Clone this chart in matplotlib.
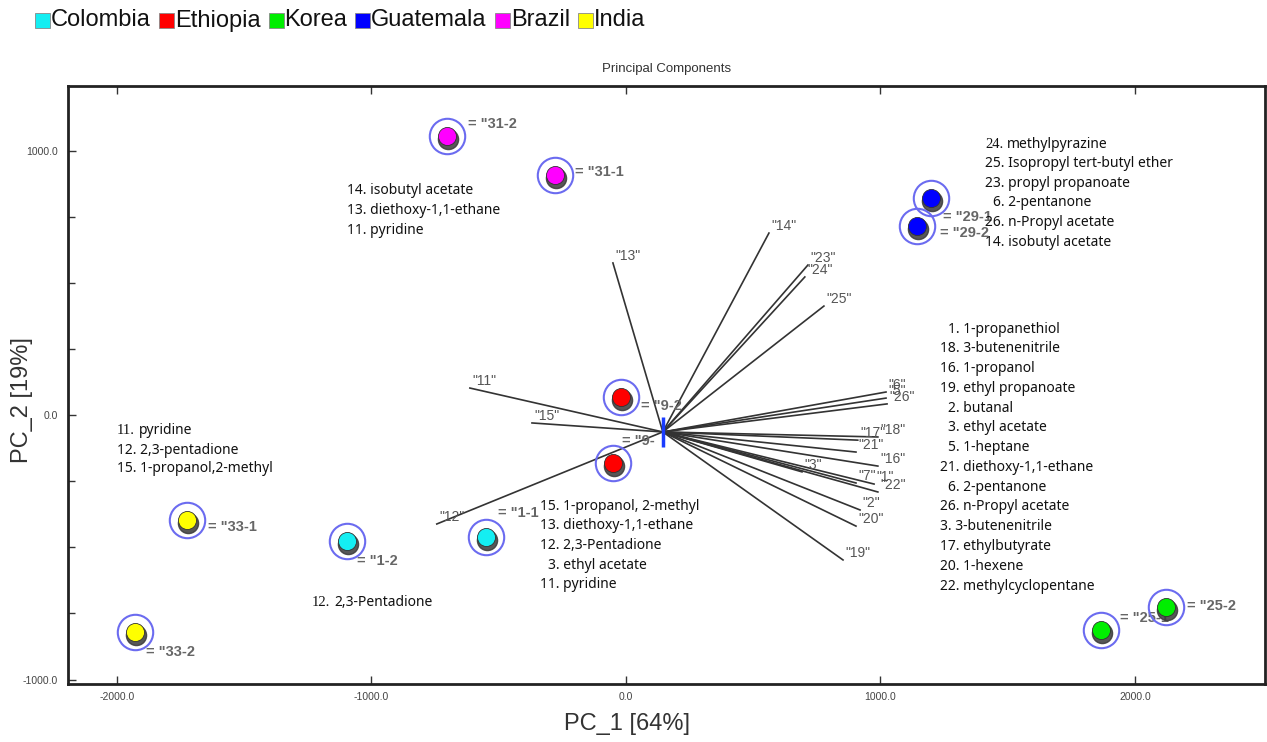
import matplotlib
matplotlib.use('Agg')
import matplotlib.pyplot as plt
from matplotlib.patches import Rectangle
from matplotlib.ticker import MultipleLocator, FormatStrFormatter
from matplotlib.transforms import offset_copy

plt.rcParams['axes.unicode_minus'] = False

W, H = 1267, 742

# groups (legend order)
countries = ['Colombia', 'Ethiopia', 'Korea', 'Guatemala', 'Brazil', 'India']
country_colors = ['#14eef2', '#ff0000', '#00ee00', '#0000ff', '#ff00ff', '#ffff00']

# sample scores on PC_1 / PC_2
sample_names = ['1-1', '1-2', '9-2', '9-1', '25-1', '25-2',
                '29-1', '29-2', '31-2', '31-1', '33-1', '33-2']
sample_labels = ['= "1-1', '= "1-2', '= "9-2', '= "9-', '= "25-1', '= "25-2',
                 '= "29-1', '= "29-2', '= "31-2', '= "31-1', '= "33-1', '= "33-2']
sample_group = [0, 0, 1, 1, 2, 2, 3, 3, 4, 4, 5, 5]
pc1 = [-550, -1096, -20, -51, 1866, 2122, 1198, 1143, -703, -279, -1725, -1929]
pc2 = [-461, -476, 68, -181, -813, -726, 820, 715, 1055, 907, -397, -820]
# label offsets (pixels, right / up)
label_dx = [12, 10, 20, 9, 19, 21, 12, 23, 21, 20, 21, 11]
label_dy = [24, -20, -9, 22, 12, 1, -19, -7, 12, 3, -7, -20]

# loading vectors (origin + tips)
origin = (145, -64)
var_names = ['13', '14', '23', '24', '25', '11', '15', '12',
             '6', '5', '26', '17', '18', '21', '16', '3', '7', '1', '22', '2', '20', '19']
var_x = [-51, 562, 715, 703, 778, -613, -369, -743,
         1022, 1022, 1026, 911, 990, 904, 990, 692, 904, 975, 990, 920, 904, 853]
var_y = [575, 688, 567, 522, 412, 102, -30, -412,
         87, 64, 42, -95, -83, -140, -193, -215, -257, -261, -291, -359, -420, -548]

# annotation blocks: (left px, first line centre px, line step px, lines, serif number on first line)
block_a = ['14. isobutyl acetate', '13. diethoxy-1,1-ethane', '11. pyridine']
block_b = ['24. methylpyrazine', '25. Isopropyl tert-butyl ether', '23. propyl propanoate',
           '\u20076. 2-pentanone', '26. n-Propyl acetate', '14. isobutyl acetate']
block_c = ['\u20071. 1-propanethiol', '18. 3-butenenitrile', '16. 1-propanol',
           '19. ethyl propanoate', '\u20072. butanal', '\u20073. ethyl acetate',
           '\u20075. 1-heptane', '21. diethoxy-1,1-ethane', '\u20076. 2-pentanone',
           '26. n-Propyl acetate', '3. 3-butenenitrile', '17. ethylbutyrate',
           '20. 1-hexene', '22. methylcyclopentane']
block_d = ['11. pyridine', '12. 2,3-pentadione', '15. 1-propanol,2-methyl']
block_e = ['15. 1-propanol, 2-methyl', '13. diethoxy-1,1-ethane', '12. 2,3-Pentadione',
           '\u20073. ethyl acetate', '11. pyridine']
block_f = ['12. 2,3-Pentadione']
blocks = [(347, 189, 20.0, block_a, False),
          (985, 143, 19.6, block_b, True),
          (940, 328, 19.77, block_c, False),
          (117, 430, 19.0, block_d, True),
          (540, 505, 19.75, block_e, False),
          (312, 602, 19.0, block_f, True)]

fig = plt.figure(figsize=(W / 100, H / 100), dpi=100)
renderer = fig.canvas.get_renderer()
ax = fig.add_axes([68 / W, 58 / H, 1197 / W, 598 / H])
ax.set_xlim(-2192, 2511)
ax.set_ylim(-1017, 1244)

# loading vectors
for name, vx, vy in zip(var_names, var_x, var_y):
    ax.plot([origin[0], vx], [origin[1], vy], color='#333333', lw=1.2, zorder=2)
    ax.annotate('"%s"' % name, (vx, vy), xytext=(2, 5), textcoords='offset points',
                ha='left', va='center', fontsize=10, color='#555555',
                family='Liberation Sans', zorder=3)
ax.plot(origin[0], origin[1], marker='|', ms=21, mew=2.5, color='#1a3cff', zorder=4)

# sample points: shadow, filled circle, ring
shadow = offset_copy(ax.transData, fig=fig, x=1, y=-3, units='dots')
for i in range(len(sample_names)):
    col = country_colors[sample_group[i]]
    ax.plot(pc1[i], pc2[i], 'o', ms=14.5, color='#3a3a3a', alpha=0.85,
            transform=shadow, zorder=5)
    ax.plot(pc1[i], pc2[i], 'o', ms=13, mfc=col, mec='#333333', mew=0.6, zorder=6)
    ax.plot(pc1[i], pc2[i], 'o', ms=25.5, mfc='none', mec='#6b6bf0', mew=1.5, zorder=6)
    ax.annotate(sample_labels[i], (pc1[i], pc2[i]),
                xytext=(label_dx[i] * 0.72, label_dy[i] * 0.72), textcoords='offset points',
                ha='left', va='center', fontsize=10.5, fontweight='bold',
                color='#666666', family='Liberation Sans', zorder=5)

# axes styling
for s in ax.spines.values():
    s.set_linewidth(2)
    s.set_color('#222222')
ax.set_xticks([-2000, -1000, 0, 1000, 2000])
ax.set_yticks([-1000, 0, 1000])
ax.yaxis.set_minor_locator(MultipleLocator(250))
ax.xaxis.set_major_formatter(FormatStrFormatter('%.1f'))
ax.yaxis.set_major_formatter(FormatStrFormatter('%.1f'))
ax.tick_params(axis='both', which='both', direction='in', width=1, colors='#333333',
               labelsize=7.5, labelcolor='#444444')
ax.tick_params(axis='both', which='major', length=6)
ax.tick_params(axis='y', which='minor', length=5)
ax.tick_params(axis='x', which='major', top=True, pad=6)
ax.tick_params(axis='y', which='major', pad=7)
for lab in ax.get_xticklabels() + ax.get_yticklabels():
    lab.set_family('Liberation Sans')

fig.text(667 / W, 1 - 69 / H, 'Principal Components', ha='center', va='center',
         fontsize=9.5, color='#333333', family='Liberation Sans')
fig.text(627 / W, 1 - 724 / H, 'PC_1 [64%]', ha='center', va='center',
         fontsize=17, color='#333333', family='Liberation Sans')
fig.text(22 / W, 1 - 400 / H, 'PC_2 [19%]', ha='center', va='center', rotation=90,
         fontsize=17, color='#333333', family='Liberation Sans')

# legend across the top
x = 35
for name, col in zip(countries, country_colors):
    fig.patches.append(Rectangle((x / W, 1 - 28 / H), 15 / W, 15 / H, transform=fig.transFigure,
                                 fc=col, ec='#888888', lw=0.6))
    t = fig.text((x + 16) / W, 1 - 20.5 / H, name, ha='left', va='center',
                 fontsize=17, color='#111111', family='Liberation Sans')
    x = t.get_window_extent(renderer).x1 + 8

# compound annotation blocks
txt_font = ['Noto Sans', 'DejaVu Sans']
for bx, by, step, lines, serif in blocks:
    for i, line in enumerate(lines):
        yb = 1 - (by + i * step + 4.5) / H
        if i == 0 and serif:
            num, rest = line.split(' ', 1)
            t = fig.text(bx / W, yb, num, ha='left', va='baseline', fontsize=10.5,
                         family='Liberation Serif', color='#111111')
            w = t.get_window_extent(renderer).width
            fig.text((bx + w + 4) / W, yb, rest, ha='left', va='baseline', fontsize=10,
                     family=txt_font, color='#111111')
        else:
            fig.text(bx / W, yb, line, ha='left', va='baseline', fontsize=10,
                     family=txt_font, color='#111111')

fig.savefig('out.png', dpi=100)
